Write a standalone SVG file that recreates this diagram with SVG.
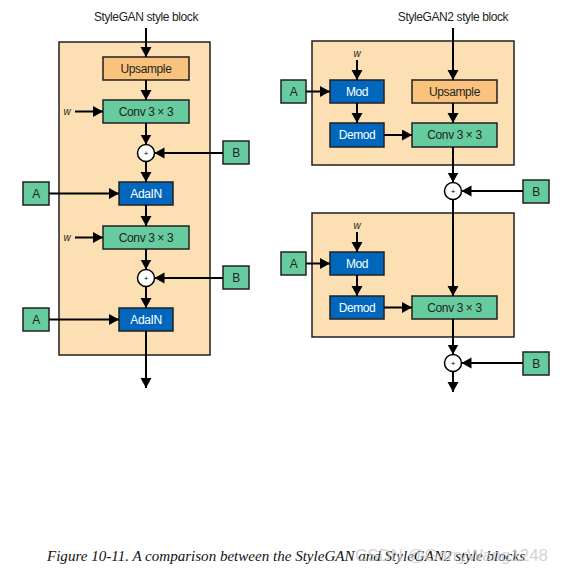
<svg xmlns="http://www.w3.org/2000/svg" width="563" height="574" viewBox="0 0 563 574">
<defs>
<marker id="ah" markerUnits="userSpaceOnUse" markerWidth="12" markerHeight="12" refX="10" refY="5.5" orient="auto">
<path d="M0,0 L10,5.5 L0,11 Z" fill="#000"/>
</marker>
<style>
.frame{fill:#FDDFB4;stroke:#231F20;stroke-width:1.5}
.up{fill:#F9C37E;stroke:#231F20;stroke-width:1.5}
.gr{fill:#66CC9F;stroke:#231F20;stroke-width:1.5}
.bl{fill:#0067BD;stroke:#231F20;stroke-width:1.5}
.plus{fill:#fff;stroke:#000;stroke-width:1.5}
.t{font-family:"Liberation Sans",Arial,sans-serif;font-size:12px;fill:#231F20;text-anchor:middle;letter-spacing:-0.4px}
.tw{font-family:"Liberation Sans",Arial,sans-serif;font-size:12px;fill:#fff;text-anchor:middle;letter-spacing:-0.4px}
.w{font-family:"Liberation Sans",Arial,sans-serif;font-size:10px;font-style:italic;fill:#231F20;text-anchor:middle}
.p{font-family:"Liberation Sans",Arial,sans-serif;font-size:8px;fill:#000;text-anchor:middle}
.c line,.c path{stroke:#000;stroke-width:2;fill:none;marker-end:url(#ah)}
.n line{stroke:#000;stroke-width:2}
</style>
</defs>
<rect width="563" height="574" fill="#fff"/>

<!-- Left: StyleGAN -->
<text class="t" x="146" y="21">StyleGAN style block</text>
<rect id="left-frame" class="frame" x="59" y="42" width="151" height="313"/>
<g id="L-upsample"><rect class="up" x="103" y="57" width="86" height="23"/><text class="t" x="146" y="73">Upsample</text></g>
<g id="L-conv1"><rect class="gr" x="103" y="100" width="86" height="23"/><text class="t" x="146" y="116">Conv 3 × 3</text></g>
<g id="L-w1"><text class="w" x="67" y="115">w</text></g>
<g id="L-plus1"><circle class="plus" cx="146" cy="153" r="8.5"/><text class="p" x="146" y="156">+</text></g>
<g id="L-B1"><rect class="gr" x="223" y="141" width="26" height="23"/><text class="t" x="236" y="157">B</text></g>
<g id="L-adain1"><rect class="bl" x="119" y="182" width="54" height="23"/><text class="tw" x="146" y="198">AdaIN</text></g>
<g id="L-A1"><rect class="gr" x="23" y="182" width="26" height="23"/><text class="t" x="36" y="198">A</text></g>
<g id="L-conv2"><rect class="gr" x="103" y="226" width="86" height="23"/><text class="t" x="146" y="242">Conv 3 × 3</text></g>
<g id="L-w2"><text class="w" x="67" y="241">w</text></g>
<g id="L-plus2"><circle class="plus" cx="146" cy="278" r="8.5"/><text class="p" x="146" y="281">+</text></g>
<g id="L-B2"><rect class="gr" x="223" y="266" width="26" height="23"/><text class="t" x="236" y="282">B</text></g>
<g id="L-adain2"><rect class="bl" x="119" y="308" width="54" height="23"/><text class="tw" x="146" y="324">AdaIN</text></g>
<g id="L-A2"><rect class="gr" x="23" y="308" width="26" height="23"/><text class="t" x="36" y="324">A</text></g>

<!-- Right: StyleGAN2 -->
<text class="t" x="453" y="21">StyleGAN2 style block</text>
<rect id="right-frame1" class="frame" x="312" y="41" width="202" height="124"/>
<rect id="right-frame2" class="frame" x="312" y="213" width="202" height="124"/>
<g id="R-w1"><text class="w" x="357" y="57">w</text></g>
<g id="R-mod1"><rect class="bl" x="330" y="80" width="54" height="23"/><text class="tw" x="357" y="96">Mod</text></g>
<g id="R-A1"><rect class="gr" x="281" y="80" width="25" height="23"/><text class="t" x="293.5" y="96">A</text></g>
<g id="R-upsample"><rect class="up" x="412" y="80" width="85" height="23"/><text class="t" x="454.5" y="96">Upsample</text></g>
<g id="R-demod1"><rect class="bl" x="330" y="123" width="54" height="24"/><text class="tw" x="357" y="139">Demod</text></g>
<g id="R-conv1"><rect class="gr" x="412" y="123" width="85" height="24"/><text class="t" x="454.5" y="139">Conv 3 × 3</text></g>
<g id="R-plus1"><circle class="plus" cx="453" cy="191" r="8.5"/><text class="p" x="453" y="194">+</text></g>
<g id="R-B1"><rect class="gr" x="523" y="180" width="26" height="23"/><text class="t" x="536" y="196">B</text></g>
<g id="R-w2"><text class="w" x="357" y="229">w</text></g>
<g id="R-mod2"><rect class="bl" x="330" y="252" width="54" height="23"/><text class="tw" x="357" y="268">Mod</text></g>
<g id="R-A2"><rect class="gr" x="281" y="252" width="25" height="23"/><text class="t" x="293.5" y="268">A</text></g>
<g id="R-demod2"><rect class="bl" x="330" y="296" width="54" height="23"/><text class="tw" x="357" y="312">Demod</text></g>
<g id="R-conv2"><rect class="gr" x="412" y="296" width="85" height="23"/><text class="t" x="454.5" y="312">Conv 3 × 3</text></g>
<g id="R-plus2"><circle class="plus" cx="453" cy="363" r="8.5"/><text class="p" x="453" y="366">+</text></g>
<g id="R-B2"><rect class="gr" x="523" y="352" width="26" height="23"/><text class="t" x="536" y="368">B</text></g>

<g id="connectors" class="c">
<line x1="146" y1="28" x2="146" y2="57"/>
<line x1="146" y1="80" x2="146" y2="100"/>
<line x1="75" y1="111.5" x2="103" y2="111.5"/>
<line x1="146" y1="123" x2="146" y2="144.5"/>
<line x1="223" y1="153" x2="154.5" y2="153"/>
<line x1="146" y1="161.5" x2="146" y2="182"/>
<line x1="49" y1="193.5" x2="119" y2="193.5"/>
<line x1="146" y1="205" x2="146" y2="226"/>
<line x1="75" y1="237.5" x2="103" y2="237.5"/>
<line x1="146" y1="249" x2="146" y2="269.5"/>
<line x1="223" y1="278" x2="154.5" y2="278"/>
<line x1="146" y1="286.5" x2="146" y2="308"/>
<line x1="49" y1="319.5" x2="119" y2="319.5"/>
<line x1="146" y1="331" x2="146" y2="388"/>

<line x1="453" y1="28" x2="453" y2="80"/>
<line x1="357" y1="60" x2="357" y2="80"/>
<line x1="306" y1="91.5" x2="330" y2="91.5"/>
<line x1="357" y1="103" x2="357" y2="123"/>
<line x1="453" y1="103" x2="453" y2="123"/>
<line x1="384" y1="135" x2="412" y2="135"/>
<line x1="453" y1="147" x2="453" y2="182.5"/>
<line x1="523" y1="191" x2="461.5" y2="191"/>
<line x1="453" y1="199.5" x2="453" y2="296"/>
<line x1="357" y1="232" x2="357" y2="252"/>
<line x1="306" y1="263.5" x2="330" y2="263.5"/>
<line x1="357" y1="275" x2="357" y2="296"/>
<line x1="384" y1="307.5" x2="412" y2="307.5"/>
<line x1="453" y1="319" x2="453" y2="354.5"/>
<line x1="523" y1="363" x2="461.5" y2="363"/>
<line x1="453" y1="371.5" x2="453" y2="392"/>
</g>

<text x="47" y="561" font-family="'Liberation Serif','Times New Roman',serif" font-style="italic" font-size="14" fill="#111" textLength="478" lengthAdjust="spacingAndGlyphs">Figure 10-11. A comparison between the StyleGAN and StyleGAN2 style blocks</text>
<text x="355" y="561" font-family="'Liberation Sans',Arial,sans-serif" font-size="17" fill="#c8c8c8" fill-opacity="0.8" textLength="193" lengthAdjust="spacingAndGlyphs">CSDN @GarryWang1248</text>
</svg>
